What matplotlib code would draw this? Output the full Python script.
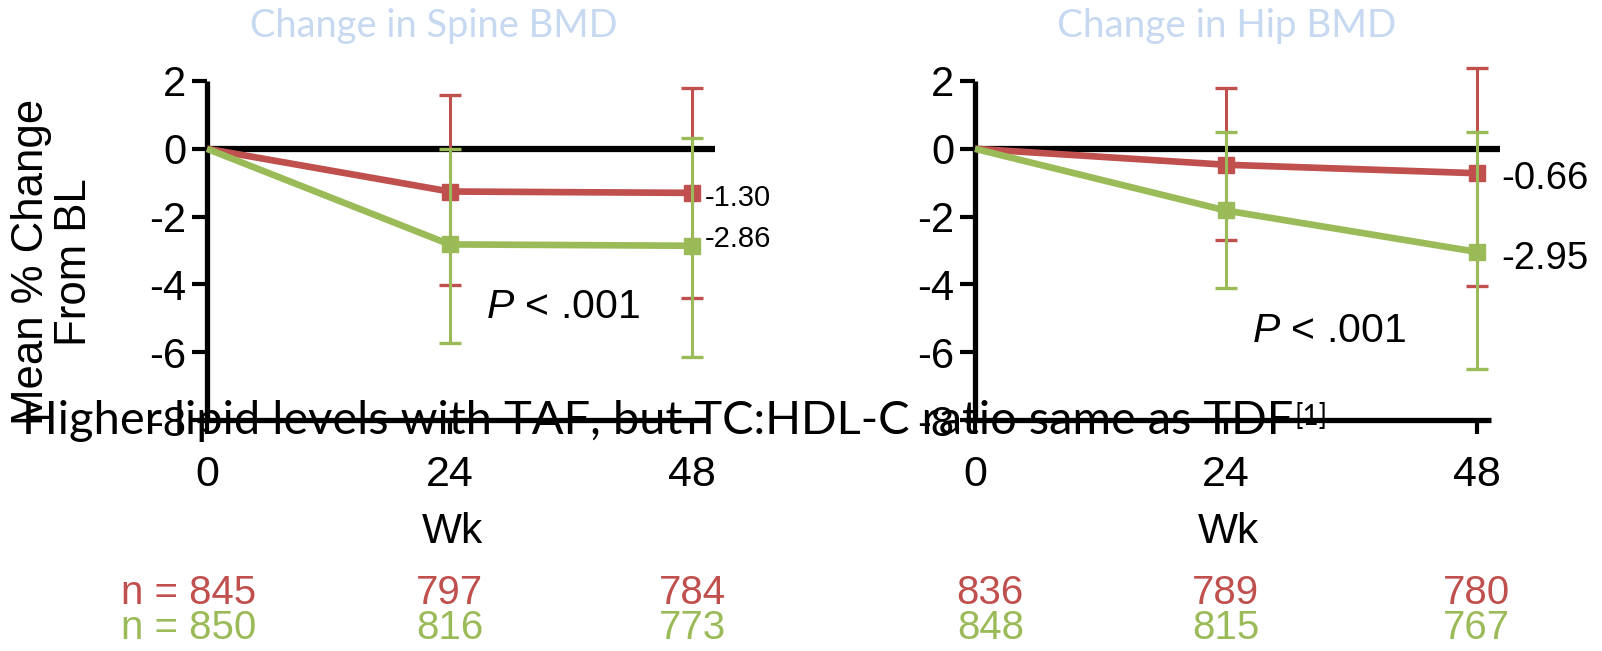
import matplotlib
matplotlib.use('Agg')
import matplotlib.pyplot as plt
import matplotlib.transforms as mtransforms

# ---------------- data ----------------
weeks = [0, 24, 48]

spine_taf = [0, -1.26, -1.30]
spine_taf_hi = [0, 1.58, 1.79]
spine_taf_lo = [0, -4.02, -4.40]
spine_tdf = [0, -2.82, -2.86]
spine_tdf_hi = [0, -0.01, 0.33]
spine_tdf_lo = [0, -5.73, -6.14]

hip_taf = [0, -0.47, -0.72]
hip_taf_hi = [0, 1.78, 2.39]
hip_taf_lo = [0, -2.68, -4.06]
hip_tdf = [0, -1.82, -3.04]
hip_tdf_hi = [0, 0.51, 0.51]
hip_tdf_lo = [0, -4.12, -6.49]

spine_end_labels = ['-1.30', '-2.86']
hip_end_labels = ['-0.66', '-2.95']

n_spine_taf = [845, 797, 784]
n_spine_tdf = [850, 816, 773]
n_hip_taf = [836, 789, 780]
n_hip_tdf = [848, 815, 767]

yticks = [2, 0, -2, -4, -6, -8]
ytick_labels = ['2', '0', '-2', '-4', '-6', '-8']
xtick_labels = ['0', '24', '48']

titles = ['Change in Spine BMD', 'Change in Hip BMD']
ylabel = 'Mean % Change\nFrom BL'
xlabel = 'Wk'
pval = '$P$ < .001'
overlay_text = 'Higher lipid levels with TAF, but TC:HDL-C ratio same as TDF'
overlay_sup = '[1]'

# ---------------- style ----------------
RED = '#C0504D'
GREEN = '#9BBB59'
TITLE_C = '#C6D9F1'
ARIAL = ['Liberation Sans', 'DejaVu Sans']
CALIBRI = ['Lato', 'DejaVu Sans']

plt.rcParams['font.family'] = ARIAL
plt.rcParams['mathtext.fontset'] = 'custom'
plt.rcParams['mathtext.it'] = 'Liberation Sans:italic'
plt.rcParams['mathtext.rm'] = 'Liberation Sans'

W, H = 1602, 651
fig = plt.figure(figsize=(W / 100, H / 100), dpi=100)

XL = (-2.0, 51.0)
YL = (-8, 2)
Y_TOP, Y_BOT = 81, 420  # pixel rows of y=2 and y=-8


def add_axes(x0_px, px_per_wk):
    left = x0_px + XL[0] * px_per_wk
    right = x0_px + XL[1] * px_per_wk
    return fig.add_axes([left / W, 1 - Y_BOT / H, (right - left) / W, (Y_BOT - Y_TOP) / H])


def panel(ax, taf, taf_hi, taf_lo, tdf, tdf_hi, tdf_lo, end_labels, lab_dx, lab_dys, lab_fs,
          n_taf, n_tdf, prefix, title, title_x_px, p_xy):
    ax.set_xlim(*XL)
    ax.set_ylim(*YL)
    for s in ['top', 'right']:
        ax.spines[s].set_visible(False)
    ax.spines['left'].set_position(('data', 0))
    ax.spines['left'].set_bounds(YL[0], YL[1])
    ax.spines['bottom'].set_bounds(-1.0, 49.4)
    for s in ['left', 'bottom']:
        ax.spines[s].set_linewidth(3.8)
        ax.spines[s].set_capstyle('butt')
    ax.patch.set_visible(False)

    ax.set_yticks(yticks)
    ax.set_yticklabels(ytick_labels)
    ax.set_xticks(weeks)
    ax.set_xticklabels(xtick_labels)
    ax.tick_params(axis='y', direction='out', length=11, width=3, labelsize=30, pad=4)
    ax.tick_params(axis='x', direction='out', length=10, width=3, labelsize=31, pad=15)

    # zero reference line
    x_end = 50.2
    ax.axhline(0, xmin=(0 - XL[0]) / (XL[1] - XL[0]), xmax=(x_end - XL[0]) / (XL[1] - XL[0]),
               color='black', lw=4.5, zorder=1, solid_capstyle='butt')

    ax.plot(weeks, taf, color=RED, lw=4.8, marker='s', ms=12, markevery=[1, 2], zorder=3,
            solid_capstyle='butt', clip_on=False)
    ax.plot(weeks, tdf, color=GREEN, lw=4.8, marker='s', ms=12, markevery=[1, 2], zorder=3,
            solid_capstyle='butt', clip_on=False)

    for vals, hi, lo, c, z in [(taf, taf_hi, taf_lo, RED, 4), (tdf, tdf_hi, tdf_lo, GREEN, 5)]:
        xs = weeks[1:]
        ys = vals[1:]
        yerr = [[v - l for v, l in zip(vals[1:], lo[1:])], [h - v for v, h in zip(vals[1:], hi[1:])]]
        ax.errorbar(xs, ys, yerr=yerr, fmt='none', ecolor=c, elinewidth=2.2, capsize=8,
                    capthick=2.4, zorder=z, clip_on=False)

    # end value labels
    for val, lab, dy in zip([taf[-1], tdf[-1]], end_labels, lab_dys):
        ax.annotate(lab, xy=(weeks[-1], val), xytext=(lab_dx, dy), textcoords='offset points',
                    ha='left', va='center', fontsize=lab_fs, color='black')

    # P value
    ax.text(p_xy[0], p_xy[1], pval, transform=fig.transFigure, fontsize=29.5, ha='left',
            va='center', color='black')

    # x label
    btr = mtransforms.blended_transform_factory(ax.transData, fig.transFigure)
    ax.text(24.3, 1 - 532 / H, xlabel, transform=btr, fontsize=30.5, ha='center', va='center')

    # n rows
    for ns, c, ypx in [(n_taf, RED, 593), (n_tdf, GREEN, 628)]:
        for i, (wk, n) in enumerate(zip(weeks, ns)):
            s = str(n)
            if i == 0:
                s = prefix + s
                off = mtransforms.offset_copy(btr, fig=fig, x=49, y=0, units='dots')
                ax.text(wk, 1 - ypx / H, s, transform=off, fontsize=29, color=c,
                        ha='right', va='center')
            else:
                ax.text(wk, 1 - ypx / H, s, transform=btr, fontsize=29, color=c,
                        ha='center', va='center')

    # title
    t = fig.text(title_x_px / W, 1 - 26 / H, title, fontsize=28, family=CALIBRI,
                 color=TITLE_C, ha='center', va='center')
    return t


ax1 = add_axes(207, 10.11)
ax2 = add_axes(975, 10.45)

t1 = panel(ax1, spine_taf, spine_taf_hi, spine_taf_lo, spine_tdf, spine_tdf_hi, spine_tdf_lo,
           spine_end_labels, 9, [-3.5, 5], 21, n_spine_taf, n_spine_tdf, 'n = ', titles[0], 434,
           (486 / W, 1 - 307 / H))
t2 = panel(ax2, hip_taf, hip_taf_hi, hip_taf_lo, hip_tdf, hip_tdf_hi, hip_tdf_lo,
           hip_end_labels, 18, [-4.5, -5], 27.5, n_hip_taf, n_hip_tdf, '', titles[1], 1227,
           (1252 / W, 1 - 331 / H))

fig.text(53 / W, 1 - 262 / H, ylabel, rotation=90, fontsize=31.5, ha='center', va='center',
         multialignment='center', linespacing=1.05)

# overlapping caption text (drawn on top)
ov = fig.text(22 / W, 1 - 434 / H, overlay_text, fontsize=33, family=CALIBRI,
              color='black', ha='left', va='baseline', zorder=10)

renderer = fig.canvas.get_renderer()
# fit widths to reference
for t, target in [(t1, 367), (t2, 340), (ov, 1275)]:
    bb = t.get_window_extent(renderer)
    t.set_fontsize(t.get_fontsize() * target / bb.width)

bb = ov.get_window_extent(renderer)
fig.text((bb.x1 + 1) / W, 1 - 430 / H, overlay_sup, fontsize=20, family=CALIBRI,
         color='black', ha='left', va='bottom', zorder=10)

fig.savefig('out.png', dpi=100)
